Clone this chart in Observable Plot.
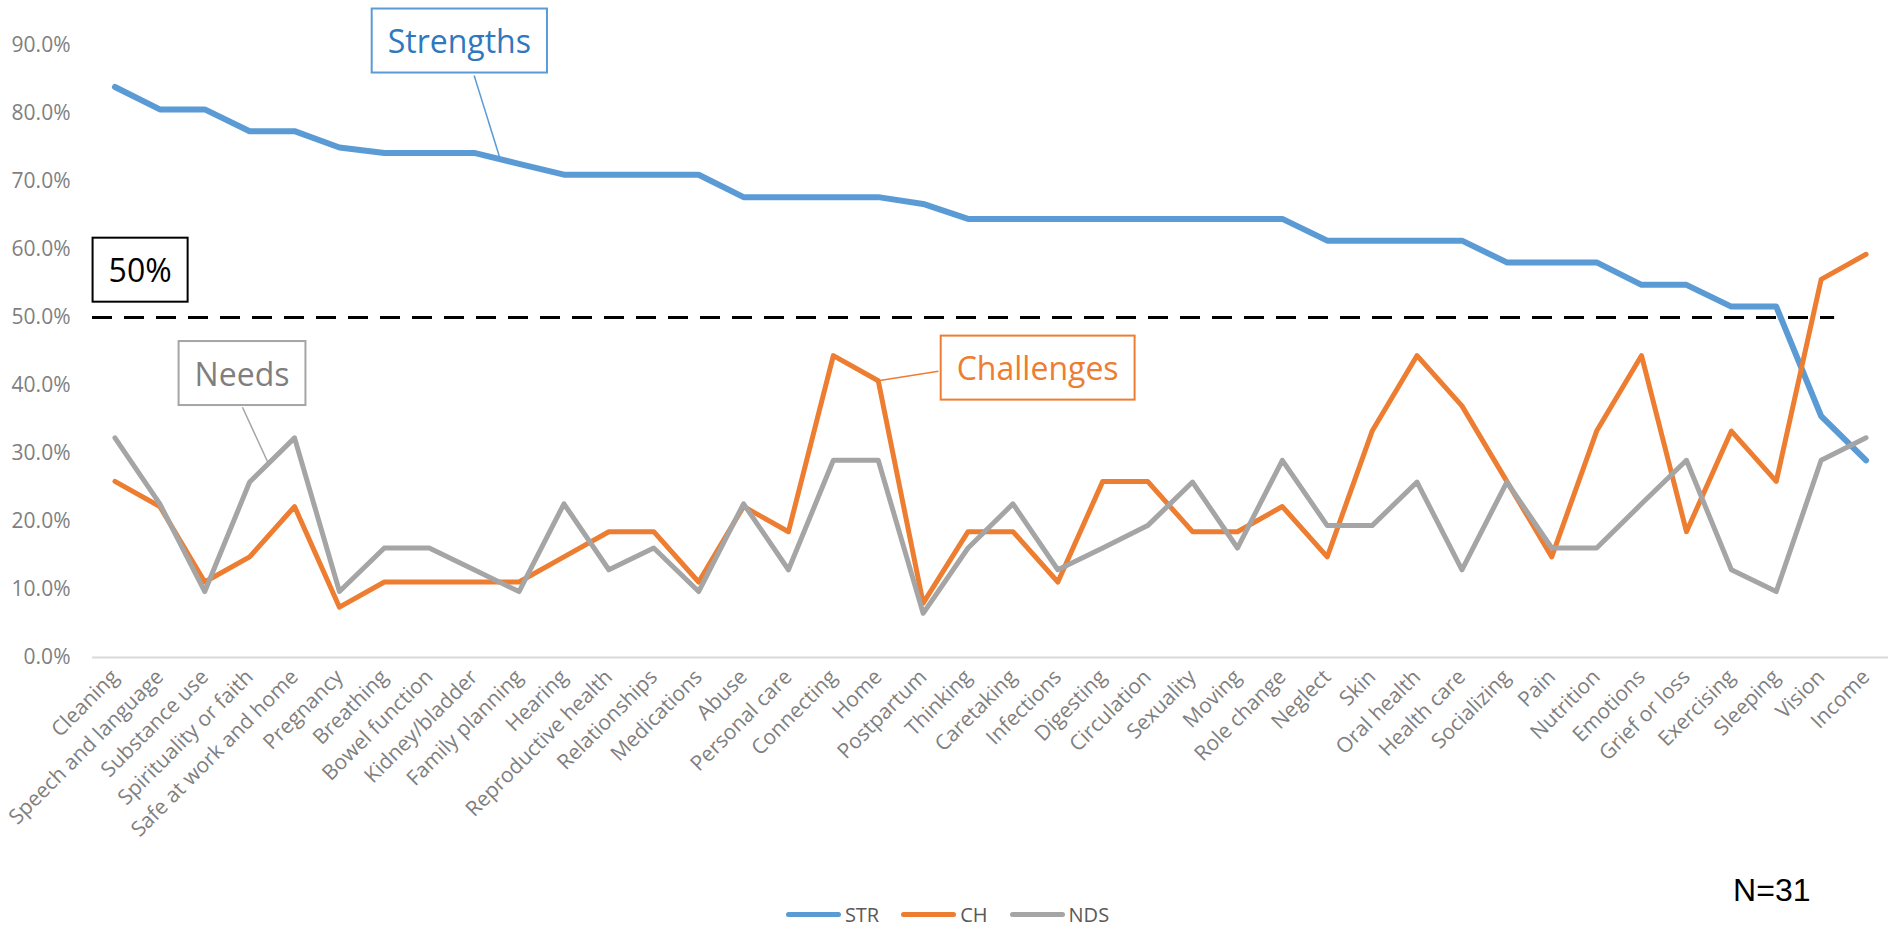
<!DOCTYPE html>
<html>
<head>
<meta charset="utf-8">
<script src="https://cdn.jsdelivr.net/npm/d3@7"></script>
<script src="https://cdn.jsdelivr.net/npm/@observablehq/plot@0.6"></script>
<style>
  body { margin: 0; background: #fff; font-family: "Open Sans", sans-serif; }
  #chart { width: 1895px; }
  .legend { display: flex; justify-content: center; align-items: center; width: 1895px; height: 38px; font-size: 20px; color: #595959; }
  .legend .item { display: flex; align-items: center; margin: 0 11px; }
  .legend .sw { width: 55px; height: 5px; border-radius: 3px; margin-right: 4px; }
</style>
</head>
<body>
<div id="chart"></div>
<div class="legend" id="legend"></div>
<script>
const categories = ["Cleaning","Speech and language","Substance use","Spirituality or faith","Safe at work and home","Pregnancy","Breathing","Bowel function","Kidney/bladder","Family planning","Hearing","Reproductive health","Relationships","Medications","Abuse","Personal care","Connecting","Home","Postpartum","Thinking","Caretaking","Infections","Digesting","Circulation","Sexuality","Moving","Role change","Neglect","Skin","Oral health","Health care","Socializing","Pain","Nutrition","Emotions","Grief or loss","Exercising","Sleeping","Vision","Income"];

// percent values
const strValues = [83.9,80.6,80.6,77.4,77.4,75.0,74.2,74.2,74.2,72.6,71.0,71.0,71.0,71.0,67.7,67.7,67.7,67.7,66.7,64.5,64.5,64.5,64.5,64.5,64.5,64.5,64.5,61.3,61.3,61.3,61.3,58.1,58.1,58.1,54.8,54.8,51.6,51.6,35.5,29.0];
const chValues = [25.9,22.2,11.1,14.8,22.2,7.4,11.1,11.1,11.1,11.1,14.8,18.5,18.5,11.1,22.2,18.5,44.4,40.7,8.0,18.5,18.5,11.1,25.9,25.9,18.5,18.5,22.2,14.8,33.3,44.4,37.0,25.9,14.8,33.3,44.4,18.5,33.3,25.9,55.6,59.3];
const ndsValues = [32.3,22.6,9.7,25.8,32.3,9.7,16.1,16.1,12.9,9.7,22.6,12.9,16.1,9.7,22.6,12.9,29.0,29.0,6.5,16.1,22.6,12.9,16.1,19.4,25.8,16.1,29.0,19.4,19.4,25.8,12.9,25.8,16.1,16.1,22.6,29.0,12.9,9.7,29.0,32.3];

const seriesNames = ["STR", "CH", "NDS"];
const seriesColors = ["#5B9BD5", "#ED7D31", "#A5A5A5"];
const yTicks = [0, 0.1, 0.2, 0.3, 0.4, 0.5, 0.6, 0.7, 0.8, 0.9];
const threshold = [0.5];
const sampleNote = "N=31";

const annotations = [
  {label: "Strengths", color: "#2F78BD", border: "#5B9BD5", bx: 7.67, by: 0.904, lx1: 8.0, ly1: 0.856, lx2: 8.59, ly2: 0.731},
  {label: "Needs", color: "#7F7F7F", border: "#A5A5A5", bx: 2.83, by: 0.415, lx1: 2.84, ly1: 0.368, lx2: 3.42, ly2: 0.285},
  {label: "Challenges", color: "#ED7D31", border: "#ED7D31", bx: 20.55, by: 0.423, lx1: 18.34, ly1: 0.421, lx2: 17.0, ly2: 0.407},
  {label: "50%", color: "#000000", border: "#000000", bx: 0.56, by: 0.567}
];

const seriesValues = [strValues, chValues, ndsValues];
const rows = seriesNames.map((s, k) => seriesValues[k].map((v, i) => ({series: s, i, category: categories[i], value: v / 100})));

const lineMark = (k, w) => Plot.line(rows[k], {x: "i", y: "value", stroke: seriesColors[k], strokeWidth: w, strokeLinejoin: "round", strokeLinecap: "round"});

const chart = Plot.plot({
  width: 1895,
  height: 895,
  marginLeft: 92,
  marginRight: 7,
  marginTop: 45,
  marginBottom: 238,
  style: {fontFamily: "Open Sans", background: "#fff", overflow: "visible"},
  x: {type: "linear", domain: [-0.5, categories.length - 0.5]},
  y: {domain: [0, 0.9]},
  marks: [
    Plot.axisY({ticks: yTicks, tickFormat: d3.format(".1%"), tickSize: 0, tickPadding: 22, fontSize: 21, color: "#7f7f7f", label: null}),
    Plot.axisX({ticks: categories.map((_, i) => i), tickFormat: i => categories[i], tickRotate: -45, tickSize: 0, tickPadding: 16, fontSize: 21, color: "#7f7f7f", label: null}),
    Plot.ruleY([0], {stroke: "#d9d9d9", strokeWidth: 2}),
    Plot.ruleY(threshold, {x1: -0.5, x2: 38.3, stroke: "#000", strokeWidth: 3, strokeDasharray: "20,12"}),
    lineMark(0, 6),
    lineMark(1, 5),
    lineMark(2, 5),
    Plot.link(annotations.filter(d => d.lx1 != null), {x1: "lx1", y1: "ly1", x2: "lx2", y2: "ly2", stroke: "border", strokeWidth: 1.5}),
    Plot.text(annotations, {x: "bx", y: "by", text: "label", fill: "color", fontSize: 32, fontFamily: "Open Sans"}),
    Plot.text([sampleNote], {frameAnchor: "bottom-right", dx: -78, dy: 233, textAnchor: "end", lineAnchor: "middle", fontSize: 32, fontFamily: "Liberation Sans", fill: "#000"})
  ]
});

document.getElementById("chart").appendChild(chart);

// boxes around annotation labels
const labels = annotations.map(d => d.label);
d3.select(chart).selectAll("text").each(function() {
  const t = this.textContent;
  const idx = labels.indexOf(t);
  if (idx < 0) return;
  const a = annotations[idx];
  const b = this.getBBox();
  const w = b.width + 32, h = 64;
  const cx = b.x + b.width / 2, cy = b.y + b.height / 2;
  const rect = document.createElementNS("http://www.w3.org/2000/svg", "rect");
  rect.setAttribute("x", cx - w / 2);
  rect.setAttribute("y", cy - h / 2);
  rect.setAttribute("width", w);
  rect.setAttribute("height", h);
  rect.setAttribute("fill", "#fff");
  rect.setAttribute("stroke", a.border);
  rect.setAttribute("stroke-width", 2);
  const tr = this.getAttribute("transform");
  if (tr) rect.setAttribute("transform", tr);
  this.parentNode.insertBefore(rect, this);
});

// legend
const legend = d3.select("#legend");
seriesNames.forEach((s, k) => {
  const item = legend.append("div").attr("class", "item");
  item.append("div").attr("class", "sw").style("background", seriesColors[k]);
  item.append("span").text(s);
});
</script>
</body>
</html>
